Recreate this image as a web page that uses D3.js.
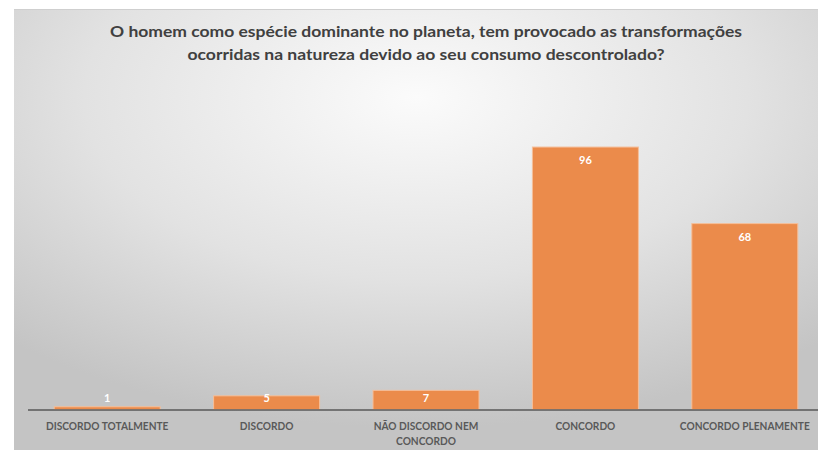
<!DOCTYPE html>
<html><head><meta charset="utf-8">
<script src="https://cdn.jsdelivr.net/npm/d3@7"></script>
<style>
html,body{margin:0;padding:0;background:#fff;}
svg{display:block;}
</style></head>
<body>
<svg id="chart" width="818" height="451"></svg>
<script>
const titleLines = ["O homem como espécie dominante no planeta, tem provocado as transformações",
                    "ocorridas na natureza devido ao seu consumo descontrolado?"];
const categories = ["DISCORDO TOTALMENTE", "DISCORDO", "NÃO DISCORDO NEM CONCORDO", "CONCORDO", "CONCORDO PLENAMENTE"];
const values = [1, 5, 7, 96, 68];

const W = 818, H = 451;
const svg = d3.select("#chart");
const defs = svg.append("defs");
const grad = defs.append("radialGradient").attr("id","bg")
  .attr("cx","0.5").attr("cy","0.2").attr("r","0.75").attr("fx","0.5").attr("fy","0.2");
grad.append("stop").attr("offset","0").attr("stop-color","#fbfbfb");
grad.append("stop").attr("offset","0.55").attr("stop-color","#e2e2e2");
grad.append("stop").attr("offset","1").attr("stop-color","#c4c4c4");

svg.append("rect").attr("x",14).attr("y",9).attr("width",W-14).attr("height",441)
  .attr("fill","url(#bg)");
svg.append("line").attr("x1",14).attr("x2",W).attr("y1",9.5).attr("y2",9.5)
  .attr("stroke","#cfcfcf").attr("stroke-width",1);

const font = "Lato, 'Open Sans', sans-serif";

// title
const tw = [632, 477];
const ty = [37, 60];
titleLines.forEach((t,i)=>{
  svg.append("text").attr("x",426).attr("y",ty[i]).attr("text-anchor","middle")
    .attr("font-family",font).attr("font-weight","bold").attr("font-size",16)
    .attr("fill","#404040").attr("textLength",tw[i]).attr("lengthAdjust","spacingAndGlyphs")
    .text(t);
});

const x = d3.scaleBand().domain(categories).range([27.5, 824.5]).paddingInner(0.335).paddingOuter(0.1675);
const y = d3.scaleLinear().domain([0, 120]).range([409.5, 409.5 - 120*2.734]);

// bars
svg.append("g").selectAll("rect").data(values).join("rect")
  .attr("x",(d,i)=>x(categories[i]))
  .attr("width",x.bandwidth())
  .attr("y",d=>y(d))
  .attr("height",d=>y(0)-y(d))
  .attr("fill","#eb8b4b").attr("stroke","#f5bf9a").attr("stroke-width",1);

// axis
const axis = d3.axisBottom(x).tickSize(0).tickPadding(0);
const gx = svg.append("g").attr("transform",`translate(0,${y(0)})`).call(axis);
gx.select(".domain").attr("d",`M28,0.5H${W}`).attr("stroke","#595959").attr("stroke-width",1.5);
gx.selectAll(".tick text").remove();
gx.selectAll(".tick").each(function(d){
  const g = d3.select(this).append("g").attr("transform","scale(0.885,1)");
  const t = g.append("text").attr("y",20.5).attr("text-anchor","middle")
    .attr("font-family",font).attr("font-weight","bold").attr("font-size",11.5).attr("fill","#595959");
  const words = d.split(" ");
  let lines = [], cur = [];
  t.text(d);
  if (t.node().getComputedTextLength() > 165) {
    words.forEach(w=>{
      cur.push(w);
      t.text(cur.join(" "));
      if (t.node().getComputedTextLength() > 150 && cur.length>1){ cur.pop(); lines.push(cur.join(" ")); cur=[w]; }
    });
    lines.push(cur.join(" "));
  } else lines = [d];
  t.text(null);
  lines.forEach((l,i)=>t.append("tspan").attr("x",0).attr("dy",i?15:0).text(l));
});

// data labels
svg.append("g").selectAll("text").data(values).join("text")
  .attr("x",(d,i)=>x(categories[i])+x.bandwidth()/2)
  .attr("y",d=>Math.min(y(d)+13, 397.5)+4)
  .attr("text-anchor","middle")
  .attr("font-family",font).attr("font-weight","bold").attr("font-size",11)
  .attr("fill","#ffffff").text(d=>d);
</script>
</body></html>
